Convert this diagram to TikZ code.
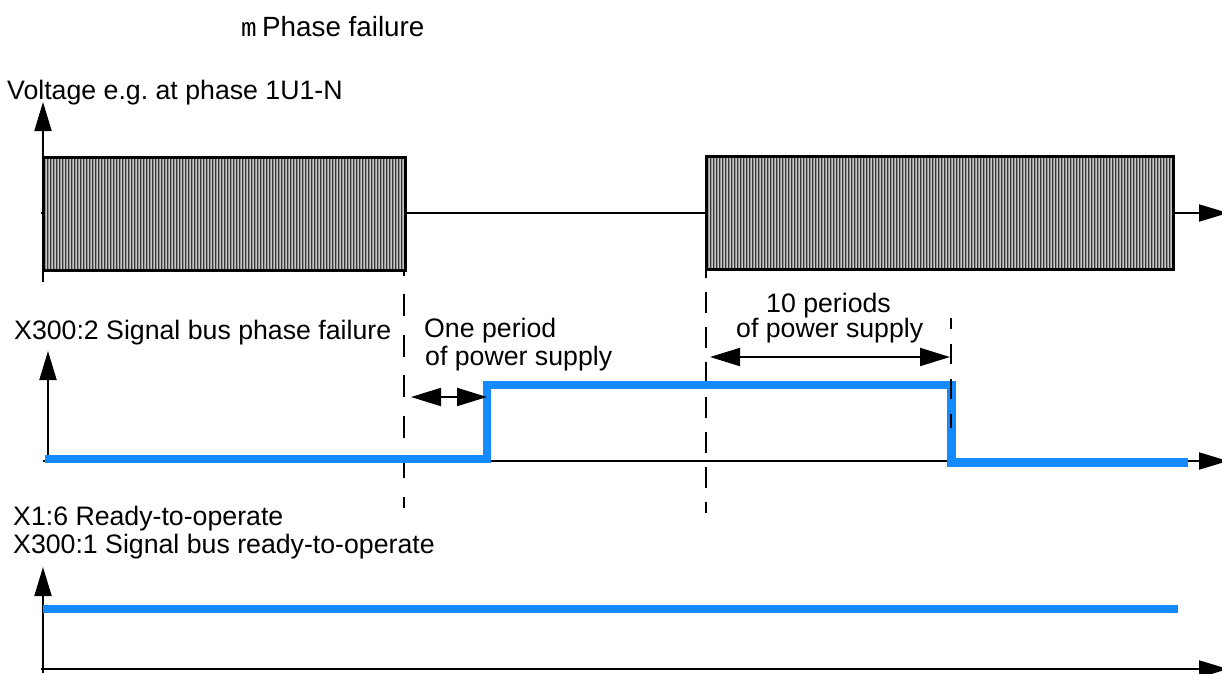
\documentclass[tikz,border=0pt]{standalone}
\usepackage{fontspec}
\setmainfont{Liberation Sans}
\newfontfamily\monof{Liberation Mono}
\usetikzlibrary{arrows.meta}
\definecolor{sigblue}{RGB}{20,138,255}
\definecolor{stripebg}{RGB}{150,150,150}
\definecolor{stripedark}{RGB}{55,55,55}
\definecolor{stripelight}{RGB}{200,200,200}
\frenchspacing
\begin{document}
\begin{tikzpicture}[x=1pt,y=-1pt,
  axis/.style={line width=2pt, -{Triangle[length=29pt,width=17pt]}},
  txt/.style={inner sep=0pt, anchor=base west, font=\fontsize{26.7}{28}\selectfont},
  dashline/.style={line width=2pt, dash pattern=on 22pt off 18.5pt},
  sig/.style={line width=8.5pt, draw=sigblue, line cap=butt, line join=miter},
  dimarrow/.style={line width=2pt, {Triangle[length=30pt,width=18pt]}-{Triangle[length=30pt,width=18pt]}},
  boxline/.style={line width=3pt},
  tickline/.style={line width=2pt}
]
\useasboundingbox (0,0) rectangle (1222,673);
\fill[white] (0,0) rectangle (1222,673);

% coordinates
\coordinate (v0) at (43,282);   \coordinate (vtop) at (43,102);
\coordinate (h1s) at (41,213);  \coordinate (h1e) at (1228,213);
\coordinate (a2b) at (48,462);  \coordinate (a2t) at (48,351);
\coordinate (h2s) at (43,461);  \coordinate (h2e) at (1228,461);
\coordinate (a3b) at (43,673);  \coordinate (a3t) at (43,567);
\coordinate (h3s) at (41,669);  \coordinate (h3e) at (1228,669);

% texts
\node[txt, font=\fontsize{27.8}{30}\selectfont] (ttl) at (262,36) {Phase failure};
\node[inner sep=0pt, anchor=base west, font=\monof\fontsize{26}{28}\selectfont] (mm) at (241,36) {m};
\node[txt] (volt) at (7,99) {Voltage e.g. at phase 1U1-N};
\node[txt] (sbpf) at (14,339) {X300:2 Signal bus phase failure};
\node[txt] (one1) at (424,337) {One period};
\node[txt] (one2) at (425,365) {of power supply};
\node[txt] (ten1) at (766,312) {10 periods};
\node[txt] (ten2) at (736,337) {of power supply};
\node[txt] (rdy1) at (13,525) {X1:6 Ready-to-operate};
\node[txt] (rdy2) at (13,553) {X300:1 Signal bus ready-to-operate};

% panel 1: voltage
\draw[axis] (h1s) -- (h1e);
\draw[axis] (v0) -- (vtop);
\fill[stripebg] (43,157) rectangle (405.5,270.5);
\foreach \x in {44.5,47.5,...,404} \draw[stripedark, line width=1pt] (\x,157) -- (\x,270.5);
\foreach \x in {46,49,...,404} \draw[stripelight, line width=0.7pt] (\x,157) -- (\x,270.5);
\draw[boxline] (43,157) rectangle (405.5,270.5);
\fill[stripebg] (706,156) rectangle (1173,269.5);
\foreach \x in {707.5,710.5,...,1172} \draw[stripedark, line width=1pt] (\x,156) -- (\x,269.5);
\foreach \x in {709,712,...,1172} \draw[stripelight, line width=0.7pt] (\x,156) -- (\x,269.5);
\draw[boxline] (706,156) rectangle (1173,269.5);
\draw[tickline] (404,270) -- (404,276);
\draw[tickline] (706,269) -- (706,278);

% dashed lines 1 and 2
\draw[dashline] (404,294) -- (404,508);
\draw[dashline, dash pattern=on 21pt off 14pt] (706,292) -- (706,513);

% panel 2
\draw[axis] (h2s) -- (h2e);
\draw[axis] (a2b) -- (a2t);
\draw[sig] (45,459) -- (487,459) -- (487,385) -- (951.5,385) -- (951.5,462.5) -- (1188,462.5);
\draw[dashline, dash pattern=on 20pt off 15pt, dash phase=9pt] (951,318) -- (951,428);
\draw[dimarrow] (411,397) -- (487,397);
\draw[dimarrow] (710,357) -- (950,357);

% panel 3
\draw[axis] (h3s) -- (h3e);
\draw[axis] (a3b) -- (a3t);
\draw[sig, line width=8pt] (43,609) -- (1178,609);
\end{tikzpicture}
\end{document}
